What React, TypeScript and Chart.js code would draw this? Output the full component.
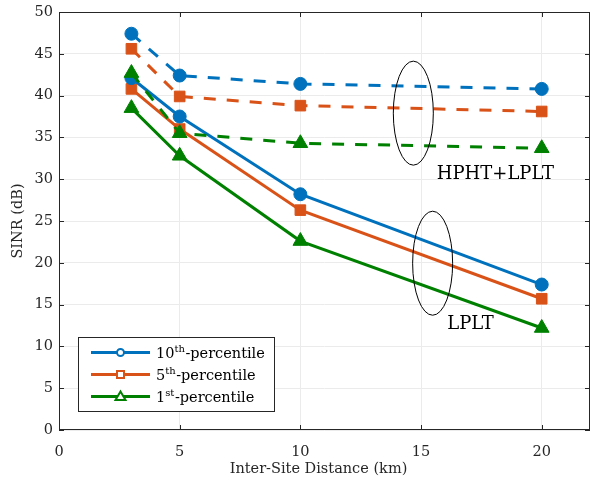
import React, { useEffect, useRef } from 'react';
import { Chart, registerables } from 'chart.js';
Chart.register(...registerables);

const distances = [3, 5, 10, 20];
const p10LPLT = [42.1, 37.5, 28.2, 17.4];
const p5LPLT = [40.8, 36.0, 26.3, 15.7];
const p1LPLT = [38.5, 32.8, 22.6, 12.2];
const p10HPHT = [47.4, 42.4, 41.4, 40.8];
const p5HPHT = [45.6, 39.9, 38.8, 38.1];
const p1HPHT = [42.7, 35.5, 34.3, 33.7];
const xTicks = [0, 5, 10, 15, 20];
const yTicks = [0, 5, 10, 15, 20, 25, 30, 35, 40, 45, 50];
const legendLabels = [
  { base: '10', sup: 'th', rest: '-percentile' },
  { base: '5', sup: 'th', rest: '-percentile' },
  { base: '1', sup: 'st', rest: '-percentile' },
];
const groupLabels = [
  { text: 'HPHT+LPLT', x: 18.08, y: 30.6 },
  { text: 'LPLT', x: 17.05, y: 12.6 },
];
const ellipses = [
  { x: 14.68, y: 37.9 },
  { x: 15.48, y: 19.95 },
];

const BLUE = '#0072BD';
const ORANGE = '#D95319';
const GREEN = '#008000';
const SERIF = '"DejaVu Serif", serif';

const xy = (ys: number[]) => distances.map((x, i) => ({ x, y: ys[i] }));

function drawMarker(ctx: CanvasRenderingContext2D, kind: string, x: number, y: number, color: string) {
  ctx.save();
  ctx.strokeStyle = color;
  ctx.fillStyle = '#fff';
  ctx.lineWidth = 2;
  ctx.beginPath();
  if (kind === 'circle') {
    ctx.arc(x, y, 3.5, 0, Math.PI * 2);
  } else if (kind === 'rect') {
    ctx.rect(x - 3.5, y - 3.5, 7, 7);
  } else {
    ctx.moveTo(x, y - 5);
    ctx.lineTo(x + 5, y + 3.5);
    ctx.lineTo(x - 5, y + 3.5);
    ctx.closePath();
  }
  ctx.fill();
  ctx.stroke();
  ctx.restore();
}

const decorPlugin = {
  id: 'decor',
  afterDraw(chart: any) {
    const ctx: CanvasRenderingContext2D = chart.ctx;
    const { left, right, top, bottom } = chart.chartArea;
    const xs = chart.scales.x;
    const ys = chart.scales.y;
    ctx.save();
    // box
    ctx.strokeStyle = '#262626';
    ctx.lineWidth = 1;
    ctx.strokeRect(left + 0.5, top + 0.5, right - left - 1, bottom - top - 1);
    // inward ticks
    ctx.beginPath();
    xTicks.forEach((v) => {
      const px = Math.round(xs.getPixelForValue(v)) + 0.5;
      ctx.moveTo(px, bottom);
      ctx.lineTo(px, bottom - 5);
      ctx.moveTo(px, top);
      ctx.lineTo(px, top + 5);
    });
    yTicks.forEach((v) => {
      const py = Math.round(ys.getPixelForValue(v)) + 0.5;
      ctx.moveTo(left, py);
      ctx.lineTo(left + 5, py);
      ctx.moveTo(right, py);
      ctx.lineTo(right - 5, py);
    });
    ctx.stroke();

    // ellipses
    ctx.strokeStyle = '#000';
    ctx.lineWidth = 1;
    ellipses.forEach((e) => {
      ctx.beginPath();
      ctx.ellipse(xs.getPixelForValue(e.x), ys.getPixelForValue(e.y), 20, 52, 0, 0, Math.PI * 2);
      ctx.stroke();
    });

    // group labels
    ctx.fillStyle = '#000';
    ctx.font = '18px ' + SERIF;
    ctx.textAlign = 'center';
    ctx.textBaseline = 'middle';
    groupLabels.forEach((g) => {
      ctx.fillText(g.text, xs.getPixelForValue(g.x), ys.getPixelForValue(g.y));
    });

    // axis titles
    ctx.fillStyle = '#262626';
    ctx.font = '14.5px ' + SERIF;
    ctx.fillText('Inter-Site Distance (km)', (left + right) / 2 - 6, 469);
    ctx.save();
    ctx.translate(18, (top + bottom) / 2);
    ctx.rotate(-Math.PI / 2);
    ctx.fillText('SINR (dB)', 0, 0);
    ctx.restore();

    // legend
    const lx = 78.5, ly = 337.5, lw = 196, lh = 74;
    ctx.fillStyle = '#fff';
    ctx.fillRect(lx, ly, lw, lh);
    ctx.strokeStyle = '#262626';
    ctx.lineWidth = 1;
    ctx.strokeRect(lx, ly, lw, lh);
    const colors = [BLUE, ORANGE, GREEN];
    const kinds = ['circle', 'rect', 'triangle'];
    const rowY = [352.5, 374.5, 396.5];
    legendLabels.forEach((lab, i) => {
      const y = rowY[i];
      ctx.strokeStyle = colors[i];
      ctx.lineWidth = 3;
      ctx.beginPath();
      ctx.moveTo(91, y);
      ctx.lineTo(150, y);
      ctx.stroke();
      drawMarker(ctx, kinds[i], 120.5, y, colors[i]);
      ctx.fillStyle = '#000';
      ctx.textAlign = 'left';
      ctx.textBaseline = 'alphabetic';
      let tx = 156;
      const base = y + 5;
      ctx.font = '14.5px ' + SERIF;
      ctx.fillText(lab.base, tx, base);
      tx += ctx.measureText(lab.base).width;
      ctx.font = '10px ' + SERIF;
      ctx.fillText(lab.sup, tx, base - 6);
      tx += ctx.measureText(lab.sup).width + 0.5;
      ctx.font = '14.5px ' + SERIF;
      ctx.fillText(lab.rest, tx, base);
    });
    ctx.restore();
  },
};

export default function App() {
  const ref = useRef<HTMLCanvasElement>(null);
  useEffect(() => {
    if (!ref.current) return;
    const solid = (label: string, data: number[], color: string, style: any, r: number) => ({
      label,
      data: xy(data),
      borderColor: color,
      backgroundColor: color,
      borderWidth: 3,
      pointStyle: style,
      pointRadius: r,
      pointBorderWidth: 1,
      pointBackgroundColor: color,
      pointBorderColor: color,
      clip: false,
    });
    const dashed = (label: string, data: number[], color: string, style: any, r: number) => ({
      ...solid(label, data, color, style, r),
      borderDash: [12, 11],
    });
    const chart = new Chart(ref.current, {
      type: 'line',
      data: {
        datasets: [
          dashed('10th HPHT+LPLT', p10HPHT, BLUE, 'circle', 6.5),
          dashed('5th HPHT+LPLT', p5HPHT, ORANGE, 'rect', 7.5),
          dashed('1st HPHT+LPLT', p1HPHT, GREEN, 'triangle', 8.5),
          solid('10th LPLT', p10LPLT, BLUE, 'circle', 6.5),
          solid('5th LPLT', p5LPLT, ORANGE, 'rect', 7.5),
          solid('1st LPLT', p1LPLT, GREEN, 'triangle', 8.5),
        ] as any,
      },
      options: {
        animation: false,
        responsive: false,
        devicePixelRatio: 1,
        layout: { autoPadding: false, padding: { top: 12, right: 0, left: 0, bottom: 0 } },
        plugins: { legend: { display: false }, tooltip: { enabled: false } },
        scales: {
          x: {
            type: 'linear',
            min: 0,
            max: 22,
            afterBuildTicks: (s: any) => {
              s.ticks = xTicks.map((v) => ({ value: v }));
            },
            afterFit: (s: any) => {
              s.height = 52;
              s.paddingLeft = 0;
              s.paddingRight = 0;
            },
            grid: { color: '#ebebeb', drawTicks: false },
            border: { display: false },
            ticks: {
              padding: 14,
              autoSkip: false,
              maxRotation: 0,
              color: '#262626',
              font: { family: SERIF, size: 14.5 },
            },
          },
          y: {
            type: 'linear',
            min: 0,
            max: 50,
            afterBuildTicks: (s: any) => {
              s.ticks = yTicks.map((v) => ({ value: v }));
            },
            afterFit: (s: any) => {
              s.width = 59;
              s.paddingTop = 0;
              s.paddingBottom = 0;
            },
            grid: { color: '#ebebeb', drawTicks: false },
            border: { display: false },
            ticks: {
              padding: 6,
              color: '#262626',
              font: { family: SERIF, size: 14.5 },
            },
          },
        },
      },
      plugins: [decorPlugin],
    });
    return () => chart.destroy();
  }, []);
  return (
    <div style={{ position: 'absolute', left: 0, top: 0, width: 590, height: 482, background: '#fff' }}>
      <canvas ref={ref} width={590} height={482} />
    </div>
  );
}
